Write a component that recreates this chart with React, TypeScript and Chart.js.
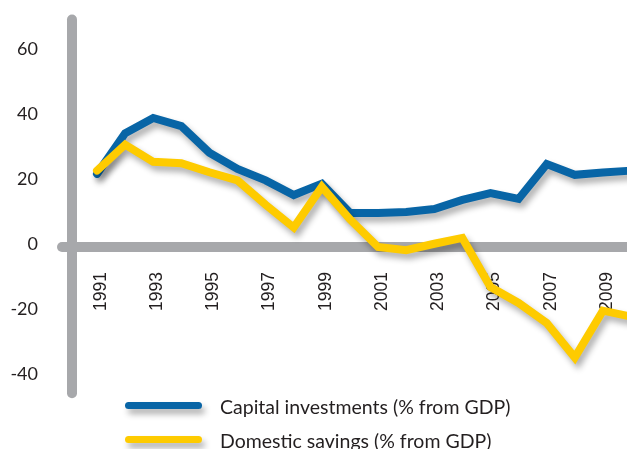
import React, { useEffect, useRef } from 'react';
import { Chart, registerables } from 'chart.js';

Chart.register(...registerables);

const years = [1991, 1992, 1993, 1994, 1995, 1996, 1997, 1998, 1999, 2000, 2001, 2002, 2003, 2004, 2005, 2006, 2007, 2008, 2009, 2010];
const capitalInvestments = [22.5, 35, 39.7, 37.2, 29, 24, 20.5, 16, 19.5, 10.5, 10.5, 10.8, 11.7, 14.5, 16.6, 14.8, 25.5, 22.2, 22.9, 23.5];
const domesticSavings = [23.5, 31.5, 26.2, 25.8, 23, 20.5, 13, 6, 18.5, 8.5, 0, -1, 1, 2.8, -12.3, -17.2, -23.4, -34, -19.6, -21.4];
const xTickYears = [1991, 1993, 1995, 1997, 1999, 2001, 2003, 2005, 2007, 2009];
const yTicks = [-40, -20, 0, 20, 40, 60];
const seriesLabels = ['Capital investments (% from GDP)', 'Domestic savings (% from GDP)'];
const seriesColors = ['#0865a6', '#fecb00'];

const AXIS_COLOR = '#a7a8ab';
const TEXT_COLOR = '#231f20';

const axesPlugin = {
  id: 'roundAxes',
  beforeDatasetsDraw(chart: any) {
    const { ctx, chartArea } = chart;
    const yScale = chart.scales.y;
    const y0 = yScale.getPixelForValue(0);
    ctx.save();
    ctx.strokeStyle = AXIS_COLOR;
    ctx.lineWidth = 10;
    ctx.lineCap = 'round';
    ctx.beginPath();
    ctx.moveTo(chartArea.left, chartArea.top);
    ctx.lineTo(chartArea.left, chartArea.bottom);
    ctx.stroke();
    ctx.beginPath();
    ctx.moveTo(chartArea.left - 10, y0);
    ctx.lineTo(chart.width + 10, y0);
    ctx.stroke();
    ctx.restore();
  },
};

const shadowPlugin = {
  id: 'lineShadow',
  beforeDatasetDraw(chart: any) {
    const ctx = chart.ctx;
    ctx.save();
    ctx.shadowColor = 'rgba(0,0,0,0.32)';
    ctx.shadowBlur = 6;
    ctx.shadowOffsetX = 3;
    ctx.shadowOffsetY = 5;
  },
  afterDatasetDraw(chart: any) {
    chart.ctx.restore();
  },
};

const legendPlugin = {
  id: 'lineLegend',
  afterDraw(chart: any) {
    const ctx = chart.ctx;
    const rows = [405.5, 439.5];
    chart.data.datasets.forEach((ds: any, i: number) => {
      const y = rows[i];
      ctx.save();
      ctx.shadowColor = 'rgba(0,0,0,0.32)';
      ctx.shadowBlur = 6;
      ctx.shadowOffsetX = 3;
      ctx.shadowOffsetY = 5;
      ctx.strokeStyle = ds.borderColor;
      ctx.lineWidth = 7;
      ctx.lineCap = 'round';
      ctx.beginPath();
      ctx.moveTo(128.5, y);
      ctx.lineTo(198.5, y);
      ctx.stroke();
      ctx.restore();
      ctx.save();
      ctx.fillStyle = TEXT_COLOR;
      ctx.font = '19.5px Lato';
      ctx.textBaseline = 'alphabetic';
      ctx.textAlign = 'left';
      ctx.fillText(ds.label, 220, y + 8);
      ctx.restore();
    });
  },
};

export default function App() {
  const canvasRef = useRef<HTMLCanvasElement | null>(null);

  useEffect(() => {
    const canvas = canvasRef.current;
    if (!canvas) return;
    const chart = new Chart(canvas, {
      type: 'line',
      data: {
        datasets: [
          {
            label: seriesLabels[0],
            data: years.map((yr, i) => ({ x: yr, y: capitalInvestments[i] })),
            borderColor: seriesColors[0],
            backgroundColor: seriesColors[0],
            borderWidth: 8,
            borderCapStyle: 'round',
            borderJoinStyle: 'miter',
            pointRadius: 0,
            tension: 0,
            order: 1,
            clip: false as any,
          },
          {
            label: seriesLabels[1],
            data: years.map((yr, i) => ({ x: yr, y: domesticSavings[i] })),
            borderColor: seriesColors[1],
            backgroundColor: seriesColors[1],
            borderWidth: 8,
            borderCapStyle: 'round',
            borderJoinStyle: 'miter',
            pointRadius: 0,
            tension: 0,
            order: 0,
            clip: false as any,
          },
        ],
      },
      options: {
        animation: false,
        responsive: false,
        maintainAspectRatio: false,
        layout: { padding: { top: 19.5, bottom: 55.75, left: 0, right: 10 } },
        plugins: {
          legend: { display: false },
          tooltip: { enabled: false },
        },
        scales: {
          x: {
            type: 'linear',
            position: { y: 0 } as any,
            min: 1990.11,
            max: 2010,
            grid: { display: false, drawTicks: false },
            border: { display: false },
            afterBuildTicks: (scale: any) => {
              scale.ticks = xTickYears.map((v) => ({ value: v }));
            },
            afterFit: (scale: any) => {
              scale.paddingLeft = 0;
              scale.paddingRight = 0;
            },
            ticks: {
              autoSkip: false,
              minRotation: 90,
              maxRotation: 90,
              padding: 25,
              labelOffset: 4,
              color: TEXT_COLOR,
              font: { family: '"Liberation Sans", Arial, sans-serif', size: 17.5 },
              callback: (v: any) => String(v),
            },
          },
          y: {
            type: 'linear',
            min: -45,
            max: 70,
            grid: { display: false, drawTicks: false },
            border: { display: false },
            afterBuildTicks: (scale: any) => {
              scale.ticks = yTicks.map((v) => ({ value: v }));
            },
            afterFit: (scale: any) => {
              scale.width = 72;
              scale.paddingTop = 0;
              scale.paddingBottom = 0;
            },
            ticks: {
              padding: 34,
              labelOffset: -3,
              color: TEXT_COLOR,
              font: { family: 'Lato, sans-serif', size: 18 },
              callback: (v: any) => String(v),
            },
          },
        },
      },
      plugins: [axesPlugin, shadowPlugin, legendPlugin],
    } as any);
    return () => chart.destroy();
  }, []);

  return (
    <div style={{ position: 'absolute', left: 0, top: 0, width: 627, height: 449, overflow: 'hidden', background: '#fff' }}>
      <canvas ref={canvasRef} width={641} height={449} style={{ width: 641, height: 449, display: 'block' }} />
    </div>
  );
}
